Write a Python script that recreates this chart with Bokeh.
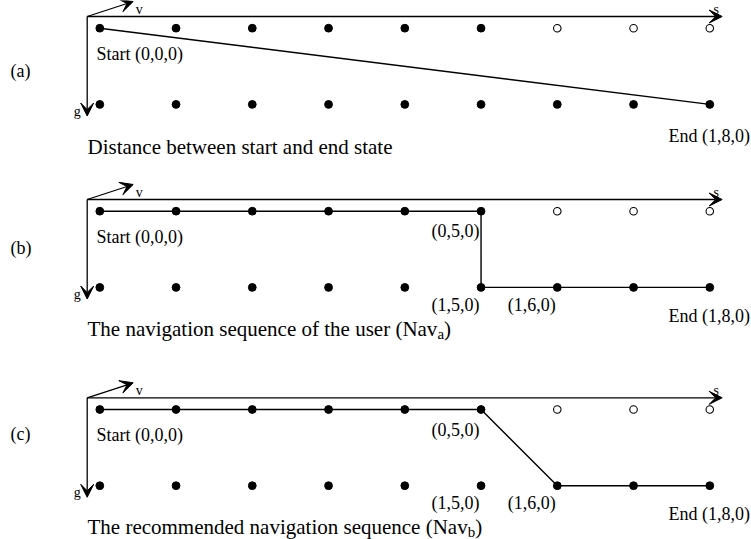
from bokeh.plotting import figure
from bokeh.layouts import column
from bokeh.models import Range1d, Arrow, VeeHead
from bokeh.core.properties import value
from bokeh.embed import file_html
from bokeh.resources import INLINE

# ---------------- data ----------------
# states are (g, s, v)
s_values = [0, 1, 2, 3, 4, 5, 6, 7, 8]
g_values = [0, 1]
open_states = [(0, 6, 0), (0, 7, 0), (0, 8, 0)]
start_state = (0, 0, 0)
end_state = (1, 8, 0)
path_a = [(0, 0, 0), (1, 8, 0)]
path_b = [(0, 0, 0), (0, 5, 0), (1, 5, 0), (1, 8, 0)]
path_c = [(0, 0, 0), (0, 5, 0), (1, 6, 0), (1, 8, 0)]
marked_b = [(0, 5, 0), (1, 5, 0), (1, 6, 0)]
marked_c = [(0, 5, 0), (1, 5, 0), (1, 6, 0)]
panel_tags = ["(a)", "(b)", "(c)"]
captions = ["Distance between start and end state",
            "The navigation sequence of the user (Nav",
            "The recommended navigation sequence (Nav"]
caption_subs = [None, "a", "b"]
axis_names = ["s", "g", "v"]

# ---------------- layout / style ----------------
FONT = value("Liberation Serif")
KX = 76.25          # px per s unit
KY = 76.2           # px per g unit
FIG_W = 751
X0 = (0 - 99.3) / KX
OX, OY = -12.6 / KX, -11.7 / KY     # axis origin relative to state (0,0)


def state_label(st):
    return "(%d,%d,%d)" % st


def make_panel(fig_top, height, dot_top, path, marked, tag, tag_dy,
               caption, sub, sub_w, cap_w, cap_dy, end_dy):
    g_top = (fig_top - dot_top) / KY
    g_bot = g_top + height / KY
    p = figure(width=FIG_W, height=height, output_backend="svg",
               toolbar_location=None, x_axis_location=None, y_axis_location=None,
               x_range=Range1d(X0, X0 + FIG_W / KX), y_range=Range1d(g_bot, g_top),
               min_border=0, outline_line_color=None,
               background_fill_color="white", border_fill_color="white")
    p.grid.visible = False

    # axes arrows
    head = dict(size=13, fill_color="black", line_color="black", line_width=1)
    p.add_layout(Arrow(end=VeeHead(**head), x_start=OX, y_start=OY,
                       x_end=OX + 635 / KX, y_end=OY, line_width=1.3))
    p.add_layout(Arrow(end=VeeHead(**head), x_start=OX, y_start=OY,
                       x_end=OX, y_end=OY + 99.5 / KY, line_width=1.3))
    p.add_layout(Arrow(end=VeeHead(**head), x_start=OX, y_start=OY,
                       x_end=OX + 46 / KX, y_end=OY - 15 / KY, line_width=1.3))
    p.text(x=[OX + 635 / KX], y=[OY], text=[axis_names[0]], x_offset=-6, y_offset=-7,
           text_font=FONT, text_font_size="14px", text_align="center",
           text_baseline="alphabetic")
    p.text(x=[OX], y=[OY + 99.5 / KY], text=[axis_names[1]], x_offset=-6.5, y_offset=-4.5,
           text_font=FONT, text_font_size="14px", text_align="right",
           text_baseline="alphabetic")
    p.text(x=[OX + 46 / KX], y=[OY - 15 / KY], text=[axis_names[2]], x_offset=2.5, y_offset=7.5,
           text_font=FONT, text_font_size="14px", text_align="left",
           text_baseline="alphabetic")

    # path
    p.line([st[1] for st in path], [st[0] for st in path], line_width=1.4, line_color="black")

    # dots
    fx, fy, ox_, oy_ = [], [], [], []
    for g in g_values:
        for s in s_values:
            if (g, s, 0) in open_states:
                ox_.append(s); oy_.append(g)
            else:
                fx.append(s); fy.append(g)
    p.scatter(fx, fy, size=7.8, fill_color="black", line_color="black")
    p.scatter(ox_, oy_, size=7.5, fill_color="white", line_color="black", line_width=1.1)

    # state labels
    p.text(x=[start_state[1]], y=[start_state[0]], text=["Start " + state_label(start_state)],
           x_offset=-3.3, y_offset=25.8, text_font=FONT, text_font_size="18px",
           text_align="left", text_baseline="alphabetic")
    p.text(x=[end_state[1]], y=[end_state[0]], text=["End " + state_label(end_state)],
           x_offset=-41.3, y_offset=end_dy, text_font=FONT, text_font_size="18px",
           text_align="left", text_baseline="alphabetic")
    for st in marked:
        p.text(x=[st[1]], y=[st[0]], text=[state_label(st)],
               x_offset=-1.5, y_offset=20 if st[0] == 0 else 17.3,
               text_font=FONT, text_font_size="18px",
               text_align="right", text_baseline="alphabetic")

    # panel tag
    p.text(x=[0], y=[0], text=[tag], x_offset=-89.3, y_offset=tag_dy,
           text_font=FONT, text_font_size="18px", text_align="left",
           text_baseline="middle")

    # caption
    p.text(x=[0], y=[1], text=[caption], x_offset=-12.3, y_offset=cap_dy,
           text_font=FONT, text_font_size="21px", text_align="left",
           text_baseline="alphabetic")
    if sub:
        p.text(x=[0], y=[1], text=[sub], x_offset=-12.3 + cap_w, y_offset=cap_dy + 5.5,
               text_font=FONT, text_font_size="15px", text_align="left",
               text_baseline="alphabetic")
        p.text(x=[0], y=[1], text=[")"], x_offset=-12.3 + cap_w + sub_w, y_offset=cap_dy,
               text_font=FONT, text_font_size="21px", text_align="left",
               text_baseline="alphabetic")
    return p


pa = make_panel(0, 174, 27.7, path_a, [], panel_tags[0], 42.3,
                captions[0], caption_subs[0], 0, 0, 42.7, 31.3)
pb = make_panel(174, 196, 210.7, path_b, marked_b, panel_tags[1], 36.3,
                captions[1], caption_subs[1], 6.7, 349.9, 41.3, 28.3)
pc = make_panel(370, 169, 409.0, path_c, marked_c, panel_tags[2], 24.0,
                captions[2], caption_subs[2], 7.5, 380.2, 41.0, 28.4)

layout = column(pa, pb, pc, spacing=0)
open("out.html", "w").write(file_html(layout, INLINE))
